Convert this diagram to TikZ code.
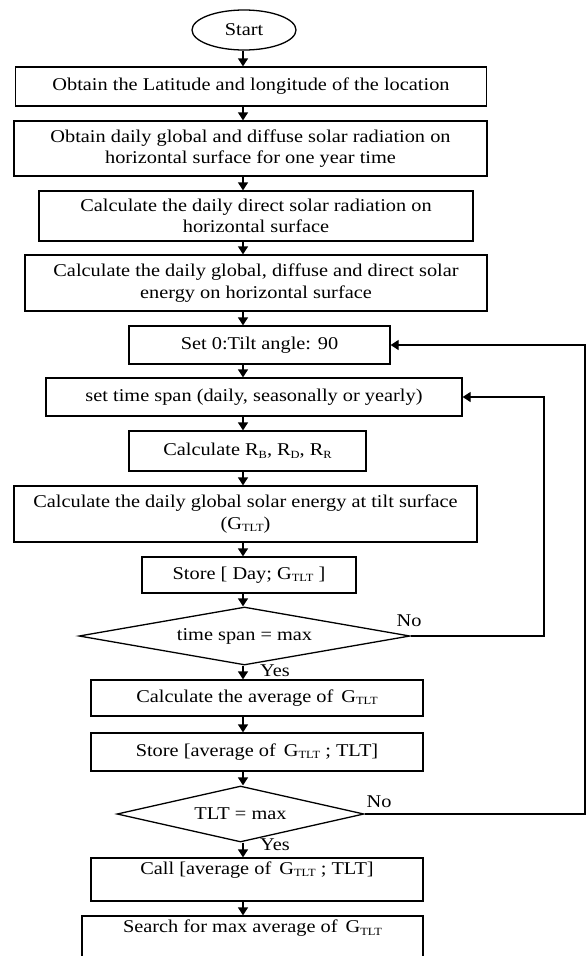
\documentclass[tikz,border=0pt]{standalone}
\usepackage{fontspec}
\setmainfont{Liberation Serif}[FakeStretch=1.13]
\usetikzlibrary{arrows.meta,shapes.geometric}
\newcommand\lsub[1]{\raisebox{-0.3ex}{\fontsize{11}{11}\selectfont #1}}
\begin{document}
\begin{tikzpicture}[x=1pt,y=-1pt,
  txt/.style={font=\fontsize{18}{21.5}\selectfont},
  box/.style={rectangle,draw,line width=1.3pt,inner sep=0pt,align=center,txt},
  dia/.style={diamond,draw,line width=1.3pt,inner sep=0pt,align=center,txt},
  arr/.style={line width=1.3pt,-{Triangle[length=8pt,width=10pt]}},
  lbl/.style={inner sep=0pt,txt}]
\clip (0,0) rectangle (587,956);
\coordinate (sx) at (243,0);
\coordinate (ia) at (544,0);
\coordinate (oa) at (585,0);

\node[ellipse,draw,line width=1.3pt,inner sep=0pt,minimum width=104pt,minimum height=40pt,txt] (start) at (244,30) {Start};
\node[box,minimum width=471pt,minimum height=39pt] (b1) at (251,86.5) {Obtain the Latitude and longitude of the location};
\node[box,minimum width=473pt,minimum height=55pt] (b2) at (250.5,148.5) {Obtain daily global and diffuse solar radiation on\\horizontal surface for one year time};
\node[box,minimum width=434pt,minimum height=50pt] (b3) at (256,216) {Calculate the daily direct solar radiation on\\horizontal surface};
\node[box,minimum width=462pt,minimum height=56pt] (b4) at (256,283) {Calculate the daily global, diffuse and direct solar\\energy on horizontal surface};
\node[box,minimum width=261pt,minimum height=38pt] (b5) at (259.5,345) {Set 0:Tilt angle: 90};
\node[box,minimum width=416pt,minimum height=38pt] (b6) at (254,397) {set time span (daily, seasonally or yearly)};
\node[box,minimum width=237pt,minimum height=40pt] (b7) at (247.5,451) {Calculate R\lsub{B}, R\lsub{D}, R\lsub{R}};
\node[box,minimum width=463pt,minimum height=56pt] (b8) at (245.5,514) {Calculate the daily global solar energy at tilt surface\\(G\lsub{TLT})};
\node[box,minimum width=214pt,minimum height=36pt] (b9) at (249,575) {Store [ Day; G\lsub{TLT} ]};
\node[dia,aspect=5.707,minimum width=331pt,minimum height=58pt] (d1) at (244.5,636) {time span = max};
\node[box,minimum width=332pt,minimum height=36pt] (b10) at (257,698) {Calculate the average of \,G\lsub{TLT}};
\node[box,minimum width=332pt,minimum height=38pt] (b11) at (257,752) {Store [average of \,G\lsub{TLT} ; TLT]};
\node[dia,aspect=4.41,minimum width=247pt,minimum height=56pt] (d2) at (240.5,814) {TLT = max};
\node[box,minimum width=332pt,minimum height=43pt] (b12) at (257,879.5) {Call [average of \,G\lsub{TLT} ; TLT]\\[2pt]};
\node[box,minimum width=341pt,minimum height=44pt] (b13) at (252.5,938) {Search for max average of \,G\lsub{TLT}\\[2pt]};

\node[lbl] (no1) at (409,621) {No};
\node[lbl] (yes1) at (275,671) {Yes};
\node[lbl] (no2) at (379,802) {No};
\node[lbl] (yes2) at (275,845) {Yes};

\draw[arr] (start.south -| sx) -- (b1.north -| sx);
\draw[arr] (b1.south -| sx) -- (b2.north -| sx);
\draw[arr] (b2.south -| sx) -- (b3.north -| sx);
\draw[arr] (b3.south -| sx) -- (b4.north -| sx);
\draw[arr] (b4.south -| sx) -- (b5.north -| sx);
\draw[arr] (b5.south -| sx) -- (b6.north -| sx);
\draw[arr] (b6.south -| sx) -- (b7.north -| sx);
\draw[arr] (b7.south -| sx) -- (b8.north -| sx);
\draw[arr] (b8.south -| sx) -- (b9.north -| sx);
\draw[arr] (b9.south -| sx) -- (d1.north -| sx);
\draw[arr] (d1.south -| sx) -- (b10.north -| sx);
\draw[arr] (b10.south -| sx) -- (b11.north -| sx);
\draw[arr] (b11.south -| sx) -- (d2.north -| sx);
\draw[arr] (d2.south -| sx) -- (b12.north -| sx);
\draw[arr] (b12.south -| sx) -- (b13.north -| sx);

\draw[arr] (d1.east) -- (d1.east -| ia) |- (b6.east);
\draw[arr] (d2.east) -- (d2.east -| oa) |- (b5.east);
\end{tikzpicture}
\end{document}
